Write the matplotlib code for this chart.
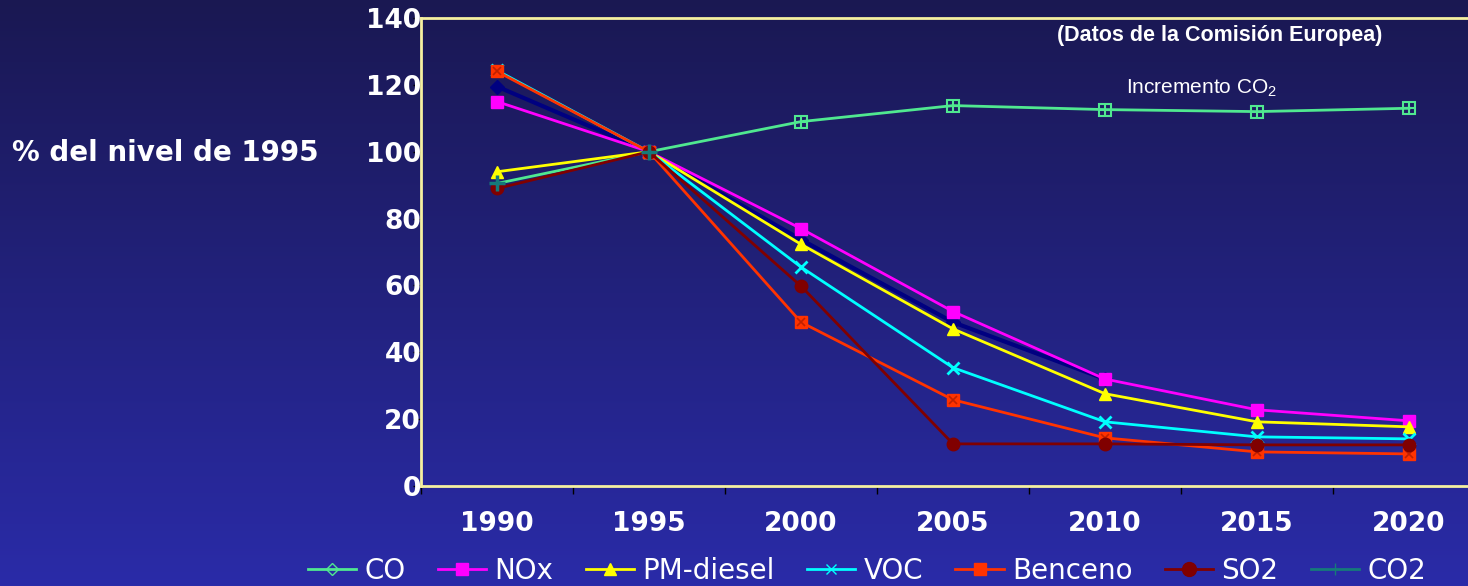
import matplotlib
matplotlib.use("Agg")
import matplotlib.pyplot as plt
from matplotlib.lines import Line2D
import numpy as np

years = ["1990", "1995", "2000", "2005", "2010", "2015", "2020"]
co = [119.5, 100, 73.7, 49, 32, np.nan, np.nan]
nox = [115, 100, 77, 52.2, 32, 22.8, 19.5]
pm_diesel = [94, 100, 72.3, 47, 27.6, 19.2, 17.7]
voc = [124.3, 100, 65.5, 35.4, 19.2, 14.7, 14.1]
benceno = [124, 100, 49, 25.8, 14.4, 10.2, 9.6]
so2 = [89, 100, 59.8, 12.6, 12.6, 12.3, 12.3]
co2 = [90.5, 100, 109, 113.8, 112.6, 112, 113]
yticks = [0, 20, 40, 60, 80, 100, 120, 140]

W, H = 1468, 586
fig = plt.figure(figsize=(W / 100, H / 100), dpi=100)

# gradient background, dark navy at top to blue at the bottom (pixel exact)
top = np.array([0x1a, 0x18, 0x52]) / 255
bot = np.array([0x2a, 0x2b, 0xa8]) / 255
t = np.linspace(1, 0, H)[:, None, None]   # figimage row 0 is the bottom
grad = top + (bot - top) * t
grad = np.repeat(grad, W, axis=1)
fig.figimage(grad, 0, 0, zorder=-10, origin="lower")

ax = fig.add_axes([421 / W, 100 / H, 1064 / W, 468 / H])
ax.set_facecolor("none")
x = np.arange(len(years))

lw = 2
ax.plot(x, co, color="#000080", lw=lw + 1, marker="D", ms=7, zorder=3)
ax.plot(x, nox, color="#ff00ff", lw=lw, marker="s", ms=9, zorder=4)
ax.plot(x, pm_diesel, color="#ffff00", lw=lw, marker="^", ms=9, zorder=4)
ax.plot(x, voc, color="#00ffff", lw=lw, marker="x", ms=9, mew=2, zorder=4)
ax.plot(x, benceno, color="#ff3300", lw=lw, marker="s", ms=9, zorder=4)
ax.plot(x, benceno, color="#c02000", lw=0, marker="x", ms=6, mew=1.2, zorder=4)
ax.plot(x, so2, color="#800000", lw=lw, marker="o", ms=9, zorder=4)
ax.plot(x, co2, color="#50e890", lw=lw, zorder=3)
ax.plot(x[2:], co2[2:], color="#50e890", lw=0, marker="s", ms=9, mfc="none", mew=1.5, zorder=4)
ax.plot(x[2:], co2[2:], color="#50e890", lw=0, marker="+", ms=9, mew=1.5, zorder=4)
ax.plot(x[:2], co2[:2], color="#157a7a", lw=0, marker="+", ms=11, mew=2.5, zorder=5)

ax.set_xlim(-0.5, 6.5)
ax.set_ylim(0, 140)
ax.set_yticks(yticks)
ax.set_yticklabels([str(v) for v in yticks], color="white", fontsize=19, fontweight="bold")
ax.set_xticks(x)
ax.set_xticklabels(years, color="white", fontsize=19, fontweight="bold")
ax.set_xticks(np.arange(-0.5, 6.6, 1), minor=True)
ax.tick_params(axis="x", which="major", length=0, pad=18)
ax.tick_params(axis="x", which="minor", length=6, color="black", width=1)
ax.tick_params(axis="y", length=6, color="black", width=1, pad=-6)
for s in ax.spines.values():
    s.set_color("#f5f0a0")
    s.set_linewidth(2)

fig.text(12 / W, 1 - 153 / H, "% del nivel de 1995", color="white", fontsize=20,
         fontweight="bold", va="center", ha="left")
fig.text(1220 / W, 1 - 35 / H, "(Datos de la Comisión Europea)", color="white",
         fontsize=15.5, fontweight="bold", ha="center", va="center",
         family=["Liberation Sans Narrow", "Liberation Sans"])
fig.text(1202 / W, 1 - 88 / H, r"Incremento CO$_\mathregular{2}$", color="white",
         fontsize=15, ha="center", va="center", family=["Liberation Sans"])

handles = [
    Line2D([], [], color="#50e890", marker="D", mfc="none", ms=6, lw=2),
    Line2D([], [], color="#ff00ff", marker="s", ms=9, lw=2),
    Line2D([], [], color="#ffff00", marker="^", ms=9, lw=2),
    Line2D([], [], color="#00ffff", marker="x", ms=7, lw=2),
    Line2D([], [], color="#ff3300", marker="s", ms=9, lw=2),
    Line2D([], [], color="#800000", marker="o", ms=10, lw=2),
    Line2D([], [], color="#157a7a", marker="+", ms=9, lw=2),
]
labels = ["CO", "NOx", "PM-diesel", "VOC", "Benceno", "SO2", "CO2"]
leg = fig.legend(handles, labels, loc="center", bbox_to_anchor=(867 / W, 1 - 571 / H),
                 ncol=7, frameon=False, fontsize=20, handlelength=1.75,
                 columnspacing=1.15, handletextpad=0.3, borderpad=0)
for txt in leg.get_texts():
    txt.set_color("white")

fig.savefig("out.png", dpi=100)
